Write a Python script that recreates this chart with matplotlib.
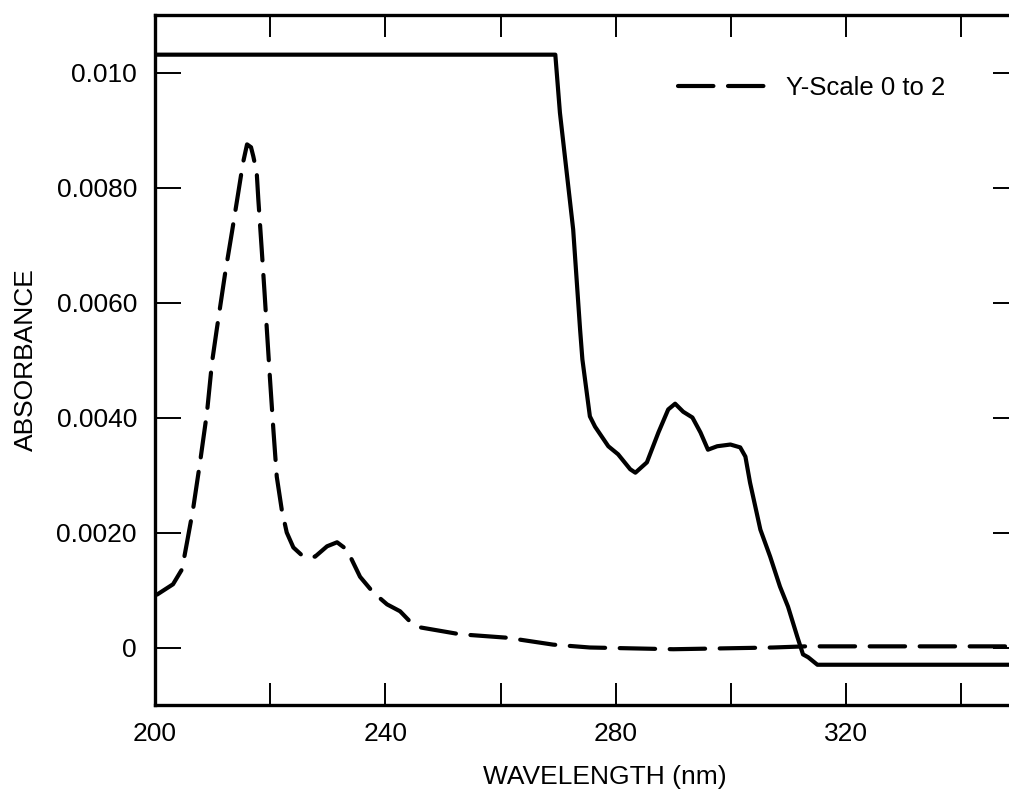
import matplotlib
matplotlib.use("Agg")
import matplotlib.pyplot as plt

plt.rcParams['font.family'] = ['Liberation Sans', 'DejaVu Sans']
fs = 19

# Solid trace (sample absorbance, clipped at top of scale)
wl_solid = [200.0, 269.5, 270.3, 272.6, 273.8, 274.2, 275.5, 276.4, 278.7, 280.4,
            282.5, 283.4, 285.4, 287.4, 289.1, 290.3, 291.7, 293.3, 294.7, 296.0,
            297.6, 299.9, 301.6, 302.5, 303.3, 305.1, 306.8, 308.5, 309.9, 311.5,
            312.5, 313.4, 315.0, 350.0]
abs_solid = [0.01031, 0.01031, 0.00930, 0.00727, 0.00553, 0.00501, 0.00402, 0.00384, 0.00350, 0.00336,
             0.00310, 0.00304, 0.00322, 0.00374, 0.00414, 0.00424, 0.00410, 0.00400, 0.00374, 0.00344,
             0.00350, 0.00353, 0.00348, 0.00332, 0.00287, 0.00205, 0.00158, 0.00106, 0.00071, 0.00019,
             -0.00012, -0.00017, -0.00030, -0.00030]

# Dashed trace (Y-scale 0 to 2)
wl_dash = [200.35, 203.13, 204.69, 205.56, 206.6, 207.82, 209.03, 209.9, 210.72, 212.15,
           213.37, 214.41, 215.28, 215.98, 216.67, 217.07, 217.66, 217.94, 218.53, 219.02,
           219.45, 219.97, 220.55, 221.14, 222.0, 222.87, 224.02, 225.76, 227.79, 229.87,
           231.61, 233.34, 234.39, 235.6, 237.86, 240.29, 242.55, 244.29, 246.02, 252.97,
           261.13, 269.12, 275.5, 290.0, 307.3, 313.0, 350.0]
abs_dash = [0.00092, 0.00110, 0.00136, 0.00183, 0.00240, 0.00322, 0.00409, 0.00496, 0.00553, 0.00649,
            0.00723, 0.00788, 0.00843, 0.00875, 0.00870, 0.00854, 0.00826, 0.00779, 0.00692, 0.00617,
            0.00548, 0.00466, 0.00379, 0.00297, 0.00240, 0.00200, 0.00174, 0.00158, 0.00158, 0.00176,
            0.00183, 0.00170, 0.00148, 0.00123, 0.00096, 0.00075, 0.00063, 0.00045, 0.00035, 0.00023,
            0.00017, 0.00005, 0.00000, -0.00003, 0.00000, 0.00002, 0.00002]

x_major = [200, 240, 280, 320]
x_minor = [220, 260, 300, 340]
y_ticks = [0, 0.002, 0.004, 0.006, 0.008, 0.010]
y_labels = ['0', '0.0020', '0.0040', '0.0060', '0.0080', '0.010']

fig = plt.figure(figsize=(10.09, 7.93), dpi=100)
ax = fig.add_axes([155 / 1009, 88 / 793, 864 / 1009, 690 / 793])

ax.plot(wl_solid, abs_solid, color='black', lw=3.0, solid_joinstyle='round')
ax.plot(wl_dash, abs_dash, color='black', lw=3.0, dashes=(8.5, 3.5),
        dash_capstyle='round', label='Y-Scale 0 to 2')

ax.set_xlim(200, 350)
ax.set_ylim(-0.001, 0.011)
ax.set_xticks(x_major)
ax.set_xticks(x_minor, minor=True)
ax.set_yticks(y_ticks, labels=y_labels)

for s in ax.spines.values():
    s.set_linewidth(2.4)

ax.tick_params(which='both', direction='in', top=True, right=True,
               width=1.4, labelsize=fs, color='black')
ax.tick_params(axis='x', which='both', length=16, pad=12)
ax.tick_params(axis='y', which='both', length=18.5, pad=13)

ax.set_xlabel("WAVELENGTH (nm)", fontsize=fs)
ax.set_ylabel("ABSORBANCE", fontsize=fs)
ax.xaxis.set_label_coords(0.521, -0.087)
ax.yaxis.set_label_coords(-0.135, 0.5)

ax.legend(frameon=False, fontsize=18.5, handlelength=3.5, handletextpad=0.7,
          loc='center left', bbox_to_anchor=(0.605, 0.894),
          borderaxespad=0, borderpad=0)

fig.savefig("out.png", dpi=100)
